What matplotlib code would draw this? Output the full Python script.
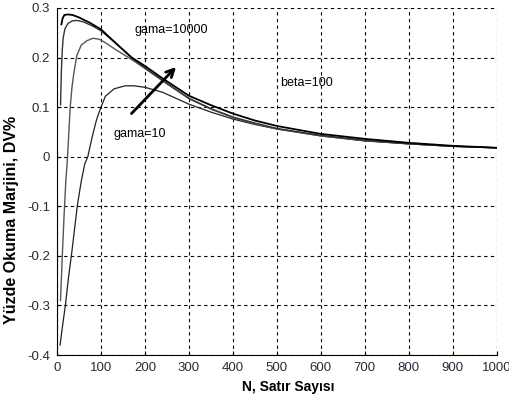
import matplotlib
matplotlib.use("Agg")
import matplotlib.pyplot as plt
import numpy as np

plt.rcParams['font.family'] = ['Liberation Sans', 'DejaVu Sans']

# gama=10000 (en ustteki egri)
n_g10000 = [10, 13, 17, 25, 35, 50, 75, 100, 130, 170, 200, 240, 300, 350, 400, 450, 500, 600, 700, 800, 900, 1000]
v_g10000 = [0.267, 0.280, 0.286, 0.287, 0.286, 0.281, 0.270, 0.257, 0.232, 0.200, 0.183, 0.158, 0.123, 0.104, 0.087, 0.073, 0.062, 0.046, 0.036, 0.028, 0.022, 0.018]

# gama=1000
n_g1000 = [8, 10, 12, 14, 18, 25, 35, 45, 60, 80, 100, 130, 170, 200, 250, 300, 350, 400, 450, 500, 600, 700, 800, 900, 1000]
v_g1000 = [0.105, 0.175, 0.215, 0.240, 0.258, 0.269, 0.274, 0.275, 0.272, 0.264, 0.254, 0.232, 0.199, 0.179, 0.148, 0.118, 0.097, 0.080, 0.068, 0.057, 0.043, 0.033, 0.026, 0.021, 0.018]

# gama=100
n_g100 = [8, 12, 16, 20, 24, 27, 30, 34, 38, 45, 55, 68, 82, 96, 110, 130, 170, 200, 250, 300, 350, 400, 450, 500, 600, 700, 800, 900, 1000]
v_g100 = [-0.29, -0.20, -0.12, -0.05, 0.0, 0.05, 0.10, 0.14, 0.167, 0.204, 0.225, 0.234, 0.239, 0.237, 0.230, 0.218, 0.196, 0.178, 0.147, 0.117, 0.096, 0.079, 0.066, 0.056, 0.042, 0.032, 0.026, 0.021, 0.018]

# gama=10
n_g10 = [7, 12, 19, 26, 34, 40, 46, 55, 63, 70, 80, 90, 100, 110, 130, 155, 175, 200, 240, 300, 350, 400, 450, 500, 600, 700, 800, 900, 1000]
v_g10 = [-0.38, -0.345, -0.30, -0.245, -0.19, -0.145, -0.10, -0.05, -0.015, 0.0, 0.04, 0.075, 0.10, 0.122, 0.137, 0.143, 0.143, 0.140, 0.130, 0.106, 0.090, 0.076, 0.065, 0.056, 0.042, 0.032, 0.026, 0.021, 0.018]

xticks = [0, 100, 200, 300, 400, 500, 600, 700, 800, 900, 1000]
yticks = [-0.4, -0.3, -0.2, -0.1, 0, 0.1, 0.2, 0.3]
ytick_labels = ['-0.4', '-0.3', '-0.2', '-0.1', '0', '0.1', '0.2', '0.3']

fig = plt.figure(figsize=(5.09, 4.0), dpi=100)
ax = fig.add_axes([0.112, 0.1125, 0.864, 0.8675])

ax.plot(n_g10, v_g10, color='#222222', lw=0.9)
ax.plot(n_g100, v_g100, color='#555555', lw=1.0)
ax.plot(n_g1000, v_g1000, color='#333333', lw=1.0)
ax.plot(n_g10000, v_g10000, color='#000000', lw=1.3)

ax.set_xlim(0, 1000)
ax.set_ylim(-0.4, 0.3)
ax.set_xticks(xticks)
ax.set_yticks(yticks)
ax.set_yticklabels(ytick_labels)
ax.tick_params(direction='in', length=3, labelsize=9.5, labelcolor='#2a2a3a', pad=5)

ax.grid(True, color='black', linestyle=(0, (3, 3)), linewidth=0.8)
ax.spines['top'].set_visible(False)
ax.spines['right'].set_visible(False)

ax.text(176, 0.256, 'gama=10000', fontsize=9, va='center')
ax.text(508, 0.149, 'beta=100', fontsize=9, va='center')
ax.text(128, 0.046, 'gama=10', fontsize=9, va='center')
ax.annotate('', xy=(275, 0.185), xytext=(165, 0.083),
            arrowprops=dict(arrowstyle='->', color='black', lw=2, mutation_scale=14))

ax.set_xlabel('N, Satır Sayısı', fontsize=10, fontweight='bold', labelpad=4)
ax.xaxis.label.set_x(0.525)
fig.text(12 / 509, 1 - 220 / 400, 'Yüzde Okuma Marjini, DV%', fontsize=11.5,
         fontweight='bold', rotation=90, ha='center', va='center')

fig.savefig('out.png', dpi=100)
